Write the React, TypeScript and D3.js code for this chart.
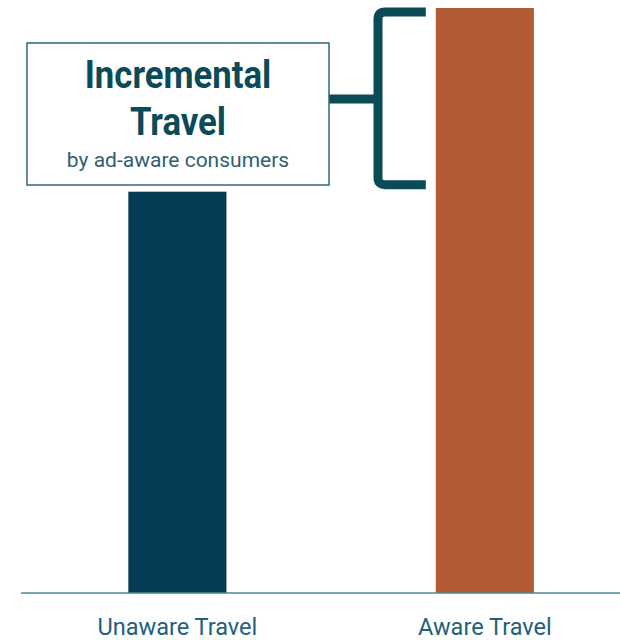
import { useEffect, useRef } from 'react'
import * as d3 from 'd3'

const categories = ['Unaware Travel', 'Aware Travel']
const travelValues = [68.6, 100]
const barColors = ['#053b54', '#b35c34']
const titleLines = ['Incremental', 'Travel']
const subtitle = 'by ad-aware consumers'

export default function App() {
  const svgRef = useRef<SVGSVGElement>(null)
  const width = 620
  const height = 640

  useEffect(() => {
    if (!svgRef.current) return
    const svg = d3.select(svgRef.current)
    svg.selectAll('*').remove()

    const baseY = 593
    const xScale = d3.scaleBand<string>()
      .domain(categories)
      .range([20.7, 641.5])
      .paddingInner(0.681)
      .paddingOuter(0.35)

    const yScale = d3.scaleLinear().domain([0, 100]).range([baseY, 8])

    const font = 'Roboto, "Liberation Sans", sans-serif'

    // squeeze text horizontally to mimic a condensed face
    const condense = (sel: d3.Selection<any, any, any, any>, k: number) => {
      sel.each(function () {
        const t = this as SVGTextElement
        const len = t.getComputedTextLength()
        d3.select(t).attr('textLength', len * k).attr('lengthAdjust', 'spacingAndGlyphs')
      })
    }

    // Bars
    svg.selectAll('.bar')
      .data(categories)
      .join('rect')
      .attr('x', (d) => xScale(d)!)
      .attr('y', (_, i) => yScale(travelValues[i]))
      .attr('width', xScale.bandwidth())
      .attr('height', (_, i) => baseY - yScale(travelValues[i]))
      .attr('fill', (_, i) => barColors[i])

    // Baseline
    svg.append('line')
      .attr('x1', 21).attr('x2', width)
      .attr('y1', baseY).attr('y2', baseY)
      .attr('stroke', '#4f8790')
      .attr('stroke-width', 1.5)

    // Category labels
    const cats = svg.selectAll('.cat')
      .data(categories)
      .join('text')
      .attr('x', (d) => xScale(d)! + xScale.bandwidth() / 2)
      .attr('y', 635)
      .attr('text-anchor', 'middle')
      .attr('font-family', font)
      .attr('font-size', '24px')
      .attr('fill', '#22617a')
      .text((d) => d)
    condense(cats, 0.98)

    // Bracket spanning the gap between the two bars
    const top = yScale(travelValues[1]) + 4
    const bottom = yScale(travelValues[0]) - 7
    const bx = 378
    const armEnd = (xScale(categories[1]) ?? 436) - 10
    const midY = 99
    const r = 7
    const bracket = d3.path()
    bracket.moveTo(armEnd, top)
    bracket.lineTo(bx + r, top)
    bracket.quadraticCurveTo(bx, top, bx, top + r)
    bracket.lineTo(bx, bottom - r)
    bracket.quadraticCurveTo(bx, bottom, bx + r, bottom)
    bracket.lineTo(armEnd, bottom)
    bracket.moveTo(329, midY)
    bracket.lineTo(bx, midY)
    svg.append('path')
      .attr('d', bracket.toString())
      .attr('fill', 'none')
      .attr('stroke', '#0b4a57')
      .attr('stroke-width', 9)

    // Annotation box
    svg.append('rect')
      .attr('x', 27).attr('y', 43)
      .attr('width', 302).attr('height', 142)
      .attr('fill', '#fff')
      .attr('stroke', '#2e6b75')
      .attr('stroke-width', 1.5)

    const titles = svg.selectAll('.title')
      .data(titleLines)
      .join('text')
      .attr('x', 178)
      .attr('y', (_, i) => 88 + i * 47)
      .attr('text-anchor', 'middle')
      .attr('font-family', font)
      .attr('font-weight', 'bold')
      .attr('font-size', '39px')
      .attr('fill', '#0b4a57')
      .text((d) => d)
    condense(titles, 0.89)

    svg.append('text')
      .attr('x', 178).attr('y', 167)
      .attr('text-anchor', 'middle')
      .attr('font-family', font)
      .attr('font-size', '21px')
      .attr('fill', '#2f6170')
      .text(subtitle)
  }, [])

  return (
    <div style={{ position: 'absolute', left: 0, top: 0 }}>
      <svg ref={svgRef} width={width} height={height} style={{ display: 'block', background: '#fff' }} />
    </div>
  )
}
